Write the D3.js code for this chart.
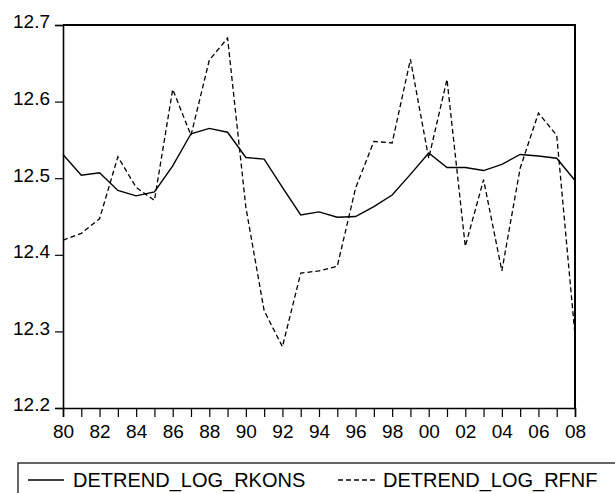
<!DOCTYPE html>
<html>
<head>
<meta charset="utf-8">
<script src="https://cdn.jsdelivr.net/npm/d3@7"></script>
<style>
body { margin: 0; background: #fff; }
svg { display: block; font-family: "Liberation Sans", Arial, sans-serif; }
</style>
</head>
<body>
<div class="chart"></div>
<script>
// yearly data, 1980 - 2008
var years = d3.range(1980, 2009);

var rkons = [12.531, 12.504, 12.507, 12.484, 12.477, 12.482, 12.516, 12.558, 12.565, 12.560,
	12.527, 12.525, 12.488, 12.452, 12.456, 12.449, 12.450, 12.463, 12.478, 12.505,
	12.533, 12.514, 12.514, 12.510, 12.518, 12.531, 12.529, 12.526, 12.497];

var rfnf = [12.419, 12.428, 12.447, 12.528, 12.488, 12.471, 12.616, 12.556, 12.654, 12.683,
	12.462, 12.327, 12.280, 12.376, 12.379, 12.385, 12.487, 12.548, 12.546, 12.655,
	12.526, 12.629, 12.411, 12.498, 12.379, 12.513, 12.585, 12.556, 12.295];

var yTicks = [12.2, 12.3, 12.4, 12.5, 12.6, 12.7];
var seriesNames = ["DETREND_LOG_RKONS", "DETREND_LOG_RFNF"];

var width = 615,
	height = 493;
// plot box (window.top is reserved, so use m.*)
var m = { left: 63, right: 575, top: 25, bottom: 408 };

var svg = d3.select(".chart")
	.append("svg")
	.attr("width", width)
	.attr("height", height);

var x = d3.scaleLinear()
	.domain([1980, 2008])
	.range([m.left, m.right]);

var y = d3.scaleLinear()
	.domain([12.2, 12.7])
	.range([m.bottom, m.top]);

// y axis
var yAxis = svg.append("g")
	.attr("transform", "translate(" + m.left + ",0)")
	.call(d3.axisLeft(y).tickValues(yTicks).tickSize(8).tickPadding(5).tickFormat(d3.format(".1f")));
yAxis.select(".domain").attr("stroke-width", 1.6);
yAxis.selectAll("line").attr("stroke-width", 1.2);
yAxis.selectAll("text").attr("font-size", 19).attr("fill", "#000")
	.attr("dy", "0.15em")
	.attr("font-family", "Liberation Sans, Arial, sans-serif");

// x axis, tick every year, label every other
var xAxis = svg.append("g")
	.attr("transform", "translate(0," + m.bottom + ")")
	.call(d3.axisBottom(x).tickValues(years).tickSize(9).tickPadding(8)
		.tickFormat(function(d) { return d % 2 == 0 ? String(d).slice(2) : ""; }));
xAxis.select(".domain").attr("stroke-width", 1.6);
xAxis.selectAll("line").attr("stroke-width", 1.2);
xAxis.selectAll("text").attr("font-size", 19).attr("fill", "#000")
	.attr("font-family", "Liberation Sans, Arial, sans-serif");

// top and right frame
svg.append("path")
	.attr("d", "M" + m.left + "," + m.top + "H" + m.right + "V" + m.bottom)
	.attr("fill", "none")
	.attr("stroke", "#000")
	.attr("stroke-width", 2);

var line = d3.line()
	.x(function(d, i) { return x(years[i]); })
	.y(function(d) { return y(d); });

svg.append("path")
	.datum(rkons)
	.attr("d", line)
	.attr("fill", "none")
	.attr("stroke", "#000")
	.attr("stroke-width", 1.4);

svg.append("path")
	.datum(rfnf)
	.attr("d", line)
	.attr("fill", "none")
	.attr("stroke", "#000")
	.attr("stroke-width", 1.3)
	.attr("stroke-dasharray", "5,3");

// legend
var legend = svg.append("g");
legend.append("rect")
	.attr("x", 18)
	.attr("y", 463)
	.attr("width", 620)
	.attr("height", 60)
	.attr("fill", "none")
	.attr("stroke", "#000")
	.attr("stroke-width", 1.2);

var items = [
	{ name: seriesNames[0], x1: 28, x2: 64, dash: null, tx: 73 },
	{ name: seriesNames[1], x1: 338, x2: 377, dash: "5,3", tx: 383 }
];

items.forEach(function(it) {
	legend.append("line")
		.attr("x1", it.x1).attr("x2", it.x2)
		.attr("y1", 480).attr("y2", 480)
		.attr("stroke", "#000")
		.attr("stroke-width", 1.3)
		.attr("stroke-dasharray", it.dash);
	legend.append("text")
		.attr("x", it.tx)
		.attr("y", 487)
		.attr("font-size", 20)
		.text(it.name);
});
</script>
</body>
</html>
